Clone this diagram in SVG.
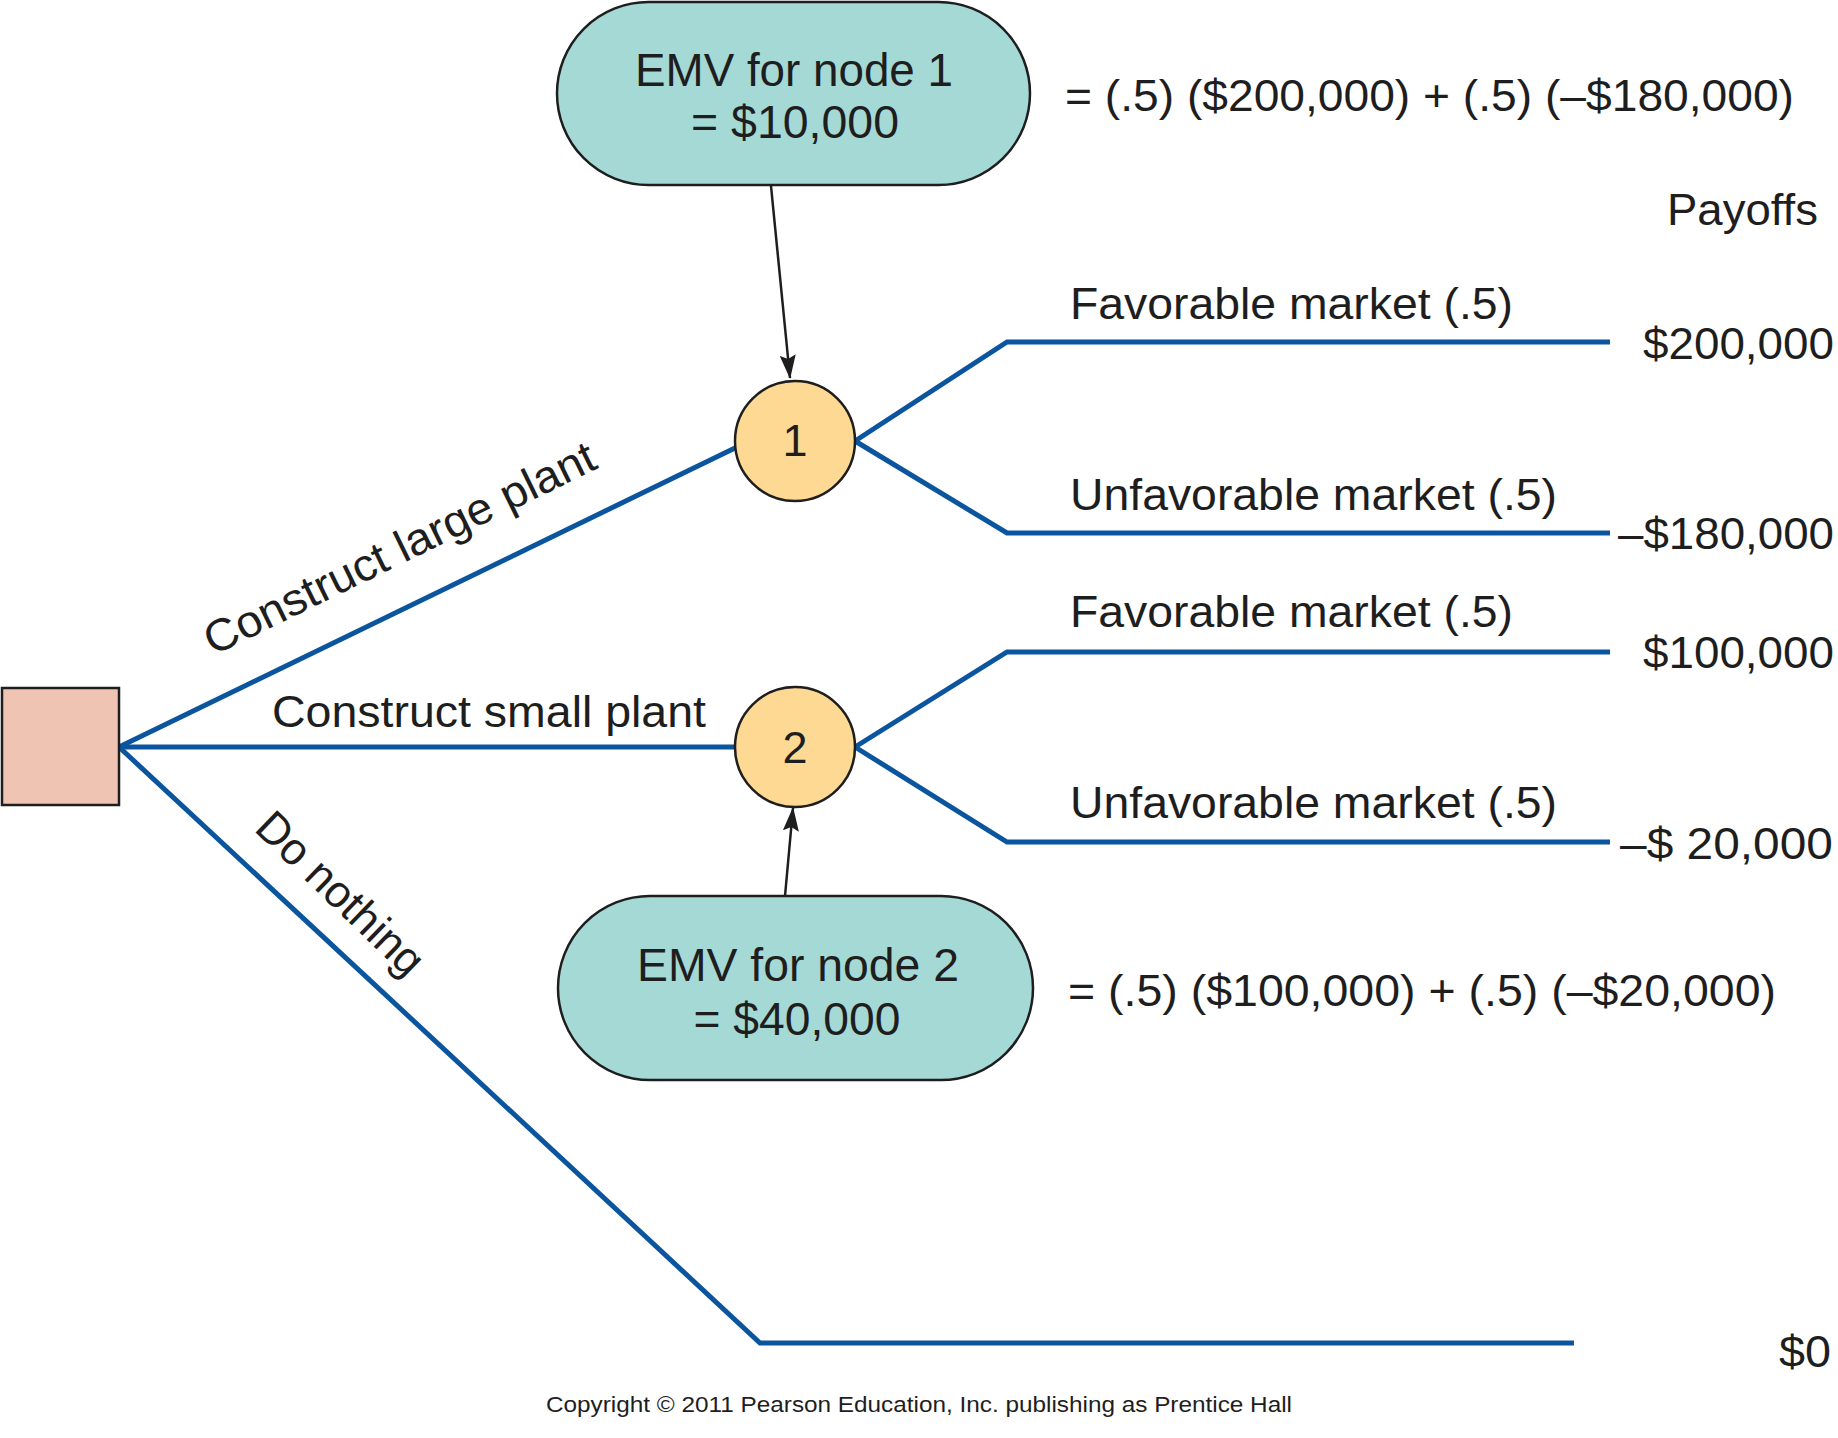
<svg xmlns="http://www.w3.org/2000/svg" width="1838" height="1438" viewBox="0 0 1838 1438">
<style>
  text { font-family: "Liberation Sans", Arial, sans-serif; fill: #1e1e1e; }
  .lbl { font-size: 45px; }
  .big { font-size: 46px; }
  .mid { text-anchor: middle; }
  .branch { fill: none; stroke: #0b559f; stroke-width: 5; stroke-linejoin: miter; }
  .arrow { stroke: #1e1e1e; stroke-width: 2.5; fill: none; }
  .pill { fill: #a4d9d6; stroke: #1e1e1e; stroke-width: 2.5; }
  .chance { fill: #fdd993; stroke: #1e1e1e; stroke-width: 2.5; }
  .decision { fill: #f0c4b2; stroke: #1e1e1e; stroke-width: 2.5; }
</style>
<defs>
  <marker id="ah" markerWidth="24" markerHeight="16" viewBox="0 0 24 16" refX="23" refY="8" orient="auto" markerUnits="userSpaceOnUse">
    <path d="M0,0 L24,8 L0,16 L4,8 z" fill="#1e1e1e"/>
  </marker>
</defs>
<rect width="1838" height="1438" fill="#ffffff"/>

<g id="connectors">
  <polyline class="branch" points="119,747 735,448"/>
  <polyline class="branch" points="119,747 735,747"/>
  <polyline class="branch" points="119,747 760,1343 1574,1343"/>
  <polyline class="branch" points="855,441 1007,342 1610,342"/>
  <polyline class="branch" points="855,441 1007,533 1610,533"/>
  <polyline class="branch" points="855,747 1007,652 1610,652"/>
  <polyline class="branch" points="855,747 1007,842 1610,842"/>
  <line class="arrow" x1="771" y1="186" x2="790" y2="378" marker-end="url(#ah)"/>
  <line class="arrow" x1="785" y1="896" x2="793" y2="808" marker-end="url(#ah)"/>
</g>

<g id="decision">
  <rect class="decision" x="2" y="688" width="117" height="117"/>
</g>

<g id="node1">
  <circle class="chance" cx="795" cy="441" r="60"/>
  <text class="lbl mid" x="795" y="456">1</text>
</g>

<g id="node2">
  <circle class="chance" cx="795" cy="747" r="60"/>
  <text class="lbl mid" x="795" y="763">2</text>
</g>

<g id="emv1">
  <rect class="pill" x="557" y="2" width="473" height="183" rx="91.5" ry="91.5"/>
  <text class="big mid" x="794" y="86" textLength="318" lengthAdjust="spacingAndGlyphs">EMV for node 1</text>
  <text class="big mid" x="795" y="138" textLength="208" lengthAdjust="spacingAndGlyphs">= $10,000</text>
</g>

<g id="emv2">
  <rect class="pill" x="558" y="896" width="475" height="184" rx="92" ry="92"/>
  <text class="big mid" x="798" y="981" textLength="322" lengthAdjust="spacingAndGlyphs">EMV for node 2</text>
  <text class="big mid" x="797" y="1035" textLength="207" lengthAdjust="spacingAndGlyphs">= $40,000</text>
</g>

<g id="labels">
  <text class="lbl" x="1065" y="111" textLength="729" lengthAdjust="spacingAndGlyphs">= (.5) ($200,000) + (.5) (–$180,000)</text>
  <text class="lbl" x="1068" y="1006" textLength="708" lengthAdjust="spacingAndGlyphs">= (.5) ($100,000) + (.5) (–$20,000)</text>
  <text class="lbl" x="1667" y="225" textLength="151" lengthAdjust="spacingAndGlyphs">Payoffs</text>
  <text class="lbl" x="1070" y="319" textLength="443" lengthAdjust="spacingAndGlyphs">Favorable market (.5)</text>
  <text class="lbl" x="1070" y="510" textLength="487" lengthAdjust="spacingAndGlyphs">Unfavorable market (.5)</text>
  <text class="lbl" x="1070" y="627" textLength="443" lengthAdjust="spacingAndGlyphs">Favorable market (.5)</text>
  <text class="lbl" x="1070" y="818" textLength="487" lengthAdjust="spacingAndGlyphs">Unfavorable market (.5)</text>
  <text class="lbl" x="1643" y="359" textLength="191" lengthAdjust="spacingAndGlyphs">$200,000</text>
  <text class="lbl" x="1618" y="549" textLength="216" lengthAdjust="spacingAndGlyphs">–$180,000</text>
  <text class="lbl" x="1643" y="668" textLength="191" lengthAdjust="spacingAndGlyphs">$100,000</text>
  <text class="lbl" x="1620" y="859" textLength="213" lengthAdjust="spacingAndGlyphs" xml:space="preserve">–$ 20,000</text>
  <text class="lbl" x="1779" y="1367" textLength="52" lengthAdjust="spacingAndGlyphs">$0</text>
  <text class="lbl" x="272" y="727" textLength="434" lengthAdjust="spacingAndGlyphs">Construct small plant</text>
  <text class="lbl" transform="translate(213,656) rotate(-26)" textLength="430" lengthAdjust="spacingAndGlyphs">Construct large plant</text>
  <text class="lbl" transform="translate(253,830) rotate(44)" textLength="214" lengthAdjust="spacingAndGlyphs">Do nothing</text>
  <text x="919" y="1412" font-size="22" text-anchor="middle" textLength="746" lengthAdjust="spacingAndGlyphs">Copyright © 2011 Pearson Education, Inc. publishing as Prentice Hall</text>
</g>
</svg>
